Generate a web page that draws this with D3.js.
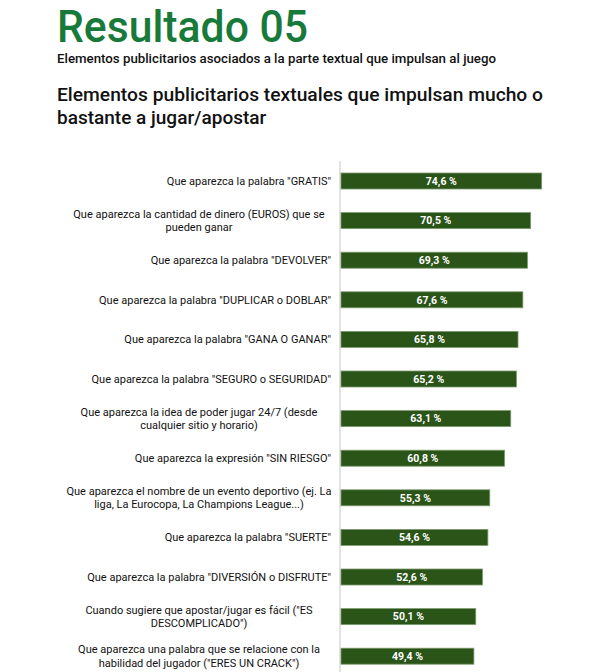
<!DOCTYPE html>
<html><head><meta charset="utf-8">
<script src="https://cdn.jsdelivr.net/npm/d3@7"></script>
<style>
html,body{margin:0;padding:0;background:#fff;}
svg{display:block;font-family:Roboto, "Noto Sans", sans-serif;}
</style></head>
<body>
<svg id="chart" width="592" height="672"></svg>
<script>
const pageTitle = "Resultado 05";
const subtitle = "Elementos publicitarios asociados a la parte textual que impulsan al juego";
const chartTitle = ["Elementos publicitarios textuales que impulsan mucho o", "bastante a jugar/apostar"];

const categories = [
  ["Que aparezca la palabra \"GRATIS\""],
  ["Que aparezca la cantidad de dinero (EUROS) que se", "pueden ganar"],
  ["Que aparezca la palabra \"DEVOLVER\""],
  ["Que aparezca la palabra \"DUPLICAR o DOBLAR\""],
  ["Que aparezca la palabra \"GANA O GANAR\""],
  ["Que aparezca la palabra \"SEGURO o SEGURIDAD\""],
  ["Que aparezca la idea de poder jugar 24/7 (desde", "cualquier sitio y horario)"],
  ["Que aparezca la expresión \"SIN RIESGO\""],
  ["Que aparezca el nombre de un evento deportivo (ej. La", "liga, La Eurocopa, La Champions League...)"],
  ["Que aparezca la palabra \"SUERTE\""],
  ["Que aparezca la palabra \"DIVERSIÓN o DISFRUTE\""],
  ["Cuando sugiere que apostar/jugar es fácil (\"ES", "DESCOMPLICADO\")"],
  ["Que aparezca una palabra que se relacione con la", "habilidad del jugador (\"ERES UN CRACK\")"]
];
const values = [74.6, 70.5, 69.3, 67.6, 65.8, 65.2, 63.1, 60.8, 55.3, 54.6, 52.6, 50.1, 49.4];

const svg = d3.select("#chart");
const keys = categories.map((c, i) => i);

const x = d3.scaleLinear().domain([0, 100]).range([341, 610]);
const y = d3.scaleBand().domain(keys).range([161.2, 676]).paddingInner(0.596).paddingOuter(0.298);

// headings
svg.append("text").attr("x", 57).attr("y", 42)
  .attr("font-size", 43.5).attr("font-weight", 500).attr("fill", "#187a3a")
  .attr("textLength", 251).attr("lengthAdjust", "spacingAndGlyphs")
  .text(pageTitle);
svg.append("text").attr("x", 57).attr("y", 63)
  .attr("font-size", 12.5).attr("font-weight", 500).attr("fill", "#111")
  .attr("textLength", 439).attr("lengthAdjust", "spacingAndGlyphs")
  .text(subtitle);
svg.append("text").attr("x", 57).attr("y", 101)
  .attr("font-size", 19).attr("font-weight", 500).attr("fill", "#111")
  .attr("textLength", 486).attr("lengthAdjust", "spacingAndGlyphs")
  .text(chartTitle[0]);
svg.append("text").attr("x", 57).attr("y", 124)
  .attr("font-size", 19).attr("font-weight", 500).attr("fill", "#111")
  .text(chartTitle[1]);

// axis line
svg.append("line").attr("x1", x(0) - 1).attr("x2", x(0) - 1)
  .attr("y1", 161).attr("y2", 672)
  .attr("stroke", "#e3e3e3").attr("stroke-width", 2);

// bars
svg.selectAll("rect.bar").data(keys).join("rect").attr("class", "bar")
  .attr("x", x(0)).attr("y", d => y(d))
  .attr("width", d => x(values[d]) - x(0)).attr("height", y.bandwidth())
  .attr("fill", "#2a5418").attr("stroke", "#7c9a6c").attr("stroke-width", 0.8);

// value labels
svg.selectAll("text.val").data(keys).join("text").attr("class", "val")
  .attr("x", d => (x(0) + x(values[d])) / 2)
  .attr("y", d => y(d) + y.bandwidth() / 2 + 3.8)
  .attr("text-anchor", "middle").attr("font-size", 10.5).attr("font-weight", 700)
  .attr("fill", "#fff")
  .text(d => values[d].toFixed(1).replace(".", ",") + " %");

// category labels
const labelRight = 331, labelCenter = 199;
const g = svg.selectAll("text.cat").data(keys).join("text").attr("class", "cat")
  .attr("font-size", 11).attr("fill", "#111");
g.each(function(d) {
  const lines = categories[d];
  const t = d3.select(this);
  const cy = y(d) + y.bandwidth() / 2;
  if (lines.length === 1) {
    t.attr("text-anchor", "end").append("tspan")
      .attr("x", labelRight).attr("y", cy + 3.8).text(lines[0]);
  } else {
    t.attr("text-anchor", "middle");
    lines.forEach((ln, i) => {
      t.append("tspan").attr("x", labelCenter)
        .attr("y", cy + 3.8 + (i - 0.5) * 13.5).text(ln);
    });
  }
});
</script>
</body></html>
